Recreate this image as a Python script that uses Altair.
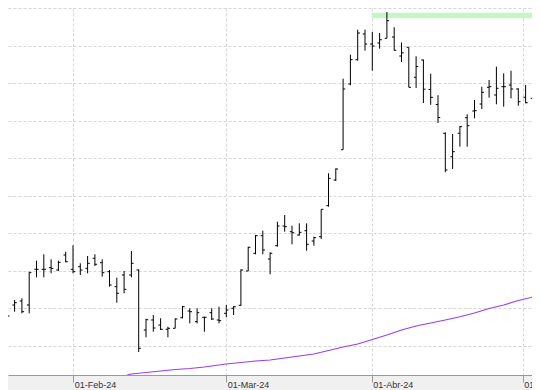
import json
import altair as alt
import pandas as pd

# ---- data ----
idx = list(range(75))
opens = [1.88, 1.983, 1.95, 1.99, 1.95, 2.307, 2.307, 2.323, 2.30, 2.45,
         2.307, 2.333, 2.317, 2.417, 2.373, 2.283, 2.133, 2.25, 2.25, 2.30,
         1.70, 1.80, 1.75, 1.707, 1.717, 1.823, 1.89, 1.783, 1.827, 1.873,
         1.80, 1.867, 1.917, 1.947, 2.29, 2.467, 2.643, 2.41, 2.543, 2.74,
         2.683, 2.65, 2.693, 2.59, 2.633, 2.943, 3.20, 3.503, 4.16, 4.403,
         4.66, 4.56, 4.57, 4.617, 4.63, 4.44, 4.527, 4.227, 4.40, 4.105,
         3.955, 3.667, 3.433, 3.667, 3.823, 3.89, 3.96, 4.127, 4.05, 4.133,
         4.15, 4.11, 4.027, 4.017, 3.94]
highs = [2.00, 2.01, 2.00, 2.017, 2.283, 2.393, 2.457, 2.407, 2.393, 2.483,
         2.547, 2.367, 2.44, 2.457, 2.407, 2.30, 2.223, 2.29, 2.49, 2.307,
         1.813, 1.85, 1.817, 1.733, 1.817, 1.94, 1.917, 1.917, 1.833, 1.917,
         1.933, 1.95, 1.94, 2.307, 2.533, 2.65, 2.693, 2.477, 2.783, 2.85,
         2.743, 2.767, 2.767, 2.633, 2.907, 3.267, 3.317, 4.213, 4.453, 4.703,
         4.703, 4.68, 4.67, 4.88, 4.727, 4.575, 4.527, 4.437, 4.405, 4.263,
         4.048, 3.677, 3.66, 3.74, 3.857, 4.00, 4.133, 4.20, 4.333, 4.267,
         4.293, 4.117, 4.15, 4.017, 3.96]
lows = [1.85, 1.823, 1.883, 1.867, 1.867, 2.227, 2.227, 2.267, 2.29, 2.377,
        2.267, 2.25, 2.267, 2.34, 2.233, 2.133, 1.973, 2.067, 2.227, 1.48,
        1.627, 1.683, 1.70, 1.627, 1.717, 1.817, 1.767, 1.767, 1.683, 1.80,
        1.767, 1.827, 1.85, 1.94, 2.29, 2.457, 2.457, 2.257, 2.533, 2.683,
        2.557, 2.643, 2.493, 2.543, 2.61, 2.933, 3.19, 3.503, 4.147, 4.393,
        4.493, 4.293, 4.513, 4.617, 4.493, 4.38, 4.127, 4.12, 3.97, 3.952,
        3.77, 3.277, 3.31, 3.533, 3.533, 3.817, 3.91, 4.023, 3.957, 3.933,
        4.017, 3.943, 3.967, 3.833, 3.90]
closes = [1.94, 1.84, 1.973, 1.883, 2.273, 2.307, 2.307, 2.317, 2.377, 2.383,
          2.283, 2.30, 2.367, 2.357, 2.273, 2.15, 2.067, 2.107, 2.367, 1.517,
          1.803, 1.72, 1.707, 1.717, 1.81, 1.933, 1.883, 1.873, 1.827, 1.81,
          1.793, 1.90, 1.933, 2.30, 2.527, 2.643, 2.50, 2.467, 2.74, 2.733,
          2.673, 2.677, 2.557, 2.623, 2.907, 3.217, 3.31, 4.11, 4.403, 4.67,
          4.56, 4.54, 4.603, 4.793, 4.497, 4.472, 4.127, 4.335, 4.108, 4.027,
          3.825, 3.30, 3.483, 3.733, 3.743, 3.893, 4.077, 4.133, 4.117, 4.133,
          4.11, 3.983, 3.973, 3.84, 3.94]

ma_idx = [17, 18, 20, 22, 24, 26, 28, 30, 31, 33, 35, 37, 39, 41, 43, 45,
          47, 49, 51, 53, 55, 57, 59, 61, 63, 65, 67, 69, 71, 73, 74]
ma_val = [1.24, 1.26, 1.275, 1.29, 1.305, 1.315, 1.33, 1.35, 1.36, 1.375,
          1.39, 1.40, 1.42, 1.44, 1.46, 1.495, 1.53, 1.56, 1.605, 1.65,
          1.70, 1.74, 1.77, 1.80, 1.833, 1.87, 1.915, 1.95, 1.995, 2.03, 2.05]

month_pos = [10.04, 31.0, 50.92, 71.6]
month_labels = ["01-Feb-24", "01-Mar-24", "01-Abr-24", "01-May-24"]
grid_levels = [1.542, 1.917, 2.292, 2.667, 3.042, 3.417, 3.792, 4.167, 4.542, 4.917]

zone_start = [50.92]
zone_end = [76.0]
zone_low = [4.817]
zone_high = [4.873]

# ---- tables ----
TICK = 0.3
bars = pd.DataFrame({"i": idx, "open": opens, "high": highs, "low": lows, "close": closes})
bars["il"] = bars["i"] - TICK
bars["ir"] = bars["i"] + TICK
ma = pd.DataFrame({"i": ma_idx, "ma": ma_val})
zone = pd.DataFrame({"x": zone_start, "x2": zone_end, "y": zone_low, "y2": zone_high})

xscale = alt.Scale(domain=[8 / 7.3, 532 / 7.3], nice=False, zero=False)
yscale = alt.Scale(domain=[1.25, 4.92], nice=False, zero=False)

label_expr = "%s[indexof(%s, datum.value)]" % (json.dumps(month_labels), json.dumps(month_pos))
xaxis = alt.Axis(values=month_pos, labelExpr=label_expr, title=None, grid=True,
                 gridDash=[3, 2], gridColor="#d6d6d6", domainColor="#999999",
                 tickColor="#999999", tickSize=7, labelAlign="left",
                 labelBaseline="alphabetic", labelPadding=5, labelOffset=1,
                 labelFont="Liberation Sans", labelFontSize=9, labelColor="#333333",
                 labelFlush=False, labelOverlap=False)
yaxis = alt.Axis(values=grid_levels, labels=False, ticks=False, domain=False,
                 title=None, grid=True, gridDash=[3, 2], gridColor="#d6d6d6")

band = alt.Chart(zone).mark_rect(color="#c6f6c6", clip=True).encode(
    x=alt.X("x:Q", scale=xscale, axis=xaxis), x2="x2:Q",
    y=alt.Y("y:Q", scale=yscale, axis=yaxis), y2="y2:Q")

ma_line = alt.Chart(ma).mark_line(color="#9b3cf2", strokeWidth=1.1, clip=True).encode(
    x=alt.X("i:Q", scale=xscale, axis=xaxis),
    y=alt.Y("ma:Q", scale=yscale, axis=yaxis))

hl = alt.Chart(bars).mark_rule(color="#000000", strokeWidth=1, clip=True).encode(
    x=alt.X("i:Q", scale=xscale, axis=xaxis),
    y=alt.Y("low:Q", scale=yscale, axis=yaxis), y2="high:Q")

op = alt.Chart(bars).mark_rule(color="#000000", strokeWidth=1, clip=True).encode(
    x=alt.X("il:Q", scale=xscale, axis=xaxis), x2="i:Q",
    y=alt.Y("open:Q", scale=yscale, axis=yaxis))

cl = alt.Chart(bars).mark_rule(color="#000000", strokeWidth=1, clip=True).encode(
    x=alt.X("i:Q", scale=xscale, axis=xaxis), x2="ir:Q",
    y=alt.Y("close:Q", scale=yscale, axis=yaxis))

chart = alt.layer(band, ma_line, hl, op, cl).properties(
    width=524, height=367,
    autosize=alt.AutoSizeParams(type="none"),
    padding={"left": 0, "top": 0, "right": 0, "bottom": 15},
    background="#f0f0f0",
).configure_view(stroke=None, fill="white")

chart.save("out.html", embed_options={"renderer": "svg", "actions": False})
